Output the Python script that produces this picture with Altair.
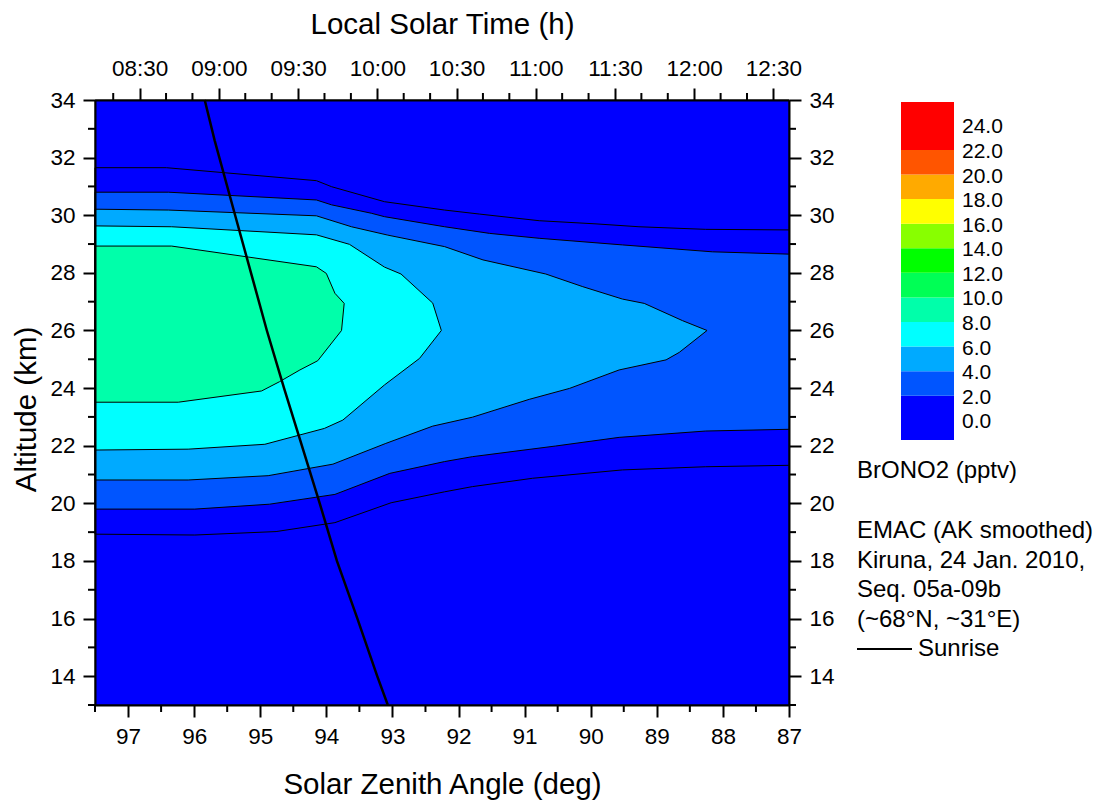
import altair as alt
import pandas as pd

# ---------------- data ----------------
SZA_DOMAIN = [87.0, 97.5]
ALT_DOMAIN = [13, 34]
TIME_DOMAIN = [493.1, 755.9]  # minutes after midnight at the plot edges

SZA_TICKS = [97, 96, 95, 94, 93, 92, 91, 90, 89, 88, 87]
SZA_MINOR = [97.5, 96.5, 95.5, 94.5, 93.5, 92.5, 91.5, 90.5, 89.5, 88.5, 87.5]
ALT_TICKS = [14, 16, 18, 20, 22, 24, 26, 28, 30, 32, 34]
ALT_MINOR = [13, 15, 17, 19, 21, 23, 25, 27, 29, 31, 33]
TIME_LABELS = ["08:30", "09:00", "09:30", "10:00", "10:30", "11:00", "11:30", "12:00", "12:30"]
TIME_MINOR = ["08:20", "08:40", "08:50", "09:10", "09:20", "09:40", "09:50", "10:10", "10:20",
              "10:40", "10:50", "11:10", "11:20", "11:40", "11:50", "12:10", "12:20"]

# contour boundaries (SZA in deg, altitude in km)
L1_UP_SZA = [97.5, 96.42, 94.15, 93.92, 93.12, 92.21, 91.68, 90.78, 89.92, 89.27, 88.26, 87.0]
L1_UP_ALT = [31.65, 31.65, 31.20, 30.99, 30.47, 30.18, 30.04, 29.81, 29.70, 29.60, 29.51, 29.49]
L1_LO_SZA = [97.5, 95.99, 94.76, 93.87, 93.02, 92.21, 91.79, 90.88, 89.52, 88.26, 87.0]
L1_LO_ALT = [18.93, 18.90, 19.02, 19.33, 20.02, 20.40, 20.58, 20.87, 21.16, 21.27, 21.32]

L2_UP_SZA = [97.5, 96.39, 94.15, 93.92, 93.32, 93.12, 92.21, 91.53, 90.78, 89.52, 88.16, 87.0]
L2_UP_ALT = [30.80, 30.80, 30.53, 30.36, 30.07, 29.95, 29.60, 29.37, 29.20, 28.97, 28.73, 28.65]
L2_LO_SZA = [97.5, 95.99, 94.86, 93.87, 93.04, 92.21, 91.79, 90.53, 89.57, 88.26, 87.0]
L2_LO_ALT = [19.80, 19.80, 19.97, 20.31, 21.04, 21.45, 21.62, 21.99, 22.29, 22.51, 22.57]

L4_UP_SZA = [97.5, 96.39, 94.15, 93.62, 93.07, 92.21, 91.63, 90.68, 90.12, 89.52, 89.19, 88.61, 88.24]
L4_UP_ALT = [30.21, 30.18, 29.98, 29.60, 29.31, 28.91, 28.45, 27.96, 27.52, 27.09, 26.94, 26.34, 26.00]
L4_LO_SZA = [97.5, 96.09, 94.88, 93.90, 93.10, 92.39, 91.79, 90.93, 90.32, 89.57, 88.86, 88.66, 88.24]
L4_LO_ALT = [20.81, 20.81, 20.96, 21.36, 22.08, 22.68, 22.99, 23.61, 23.99, 24.63, 24.98, 25.24, 26.00]

L6_UP_SZA = [97.5, 96.34, 94.15, 93.65, 93.12, 92.87, 92.39, 92.26]
L6_UP_ALT = [29.63, 29.60, 29.32, 28.99, 28.20, 27.96, 26.95, 26.00]
L6_LO_SZA = [97.5, 96.09, 94.93, 94.03, 93.75, 93.12, 92.59, 92.26]
L6_LO_ALT = [21.85, 21.88, 22.05, 22.60, 22.89, 24.11, 25.03, 26.00]

L8_UP_SZA = [97.5, 96.34, 94.15, 94.00, 93.87, 93.73, 93.77]
L8_UP_ALT = [28.93, 28.93, 28.21, 27.98, 27.29, 26.94, 26.00]
L8_LO_SZA = [97.5, 96.24, 94.98, 94.71, 94.40, 94.13, 93.77]
L8_LO_ALT = [23.51, 23.51, 23.90, 24.22, 24.63, 24.95, 26.00]

SUN_SZA = [95.84, 95.69, 95.38, 95.14, 94.90, 94.64, 94.37, 94.10, 93.84, 93.53, 93.23, 93.07]
SUN_ALT = [34, 32.6, 30, 28, 26, 24, 22, 20, 18, 16, 14, 13]

REGIONS = ["r0", "r1", "r2", "r4", "r6", "r8"]
REGION_COLORS = ["#0000FF", "#0000FF", "#0055FF", "#00AAFF", "#00FFFF", "#00FFAA"]

LEGEND_LEVELS = [0, 2, 4, 6, 8, 10, 12, 14, 16, 18, 20, 22, 24]
LEGEND_EDGES = [-1.6, 2, 4, 6, 8, 10, 12, 14, 16, 18, 20, 22, 25.9]
LEGEND_COLORS = ["#0000FF", "#0055FF", "#00AAFF", "#00FFFF", "#00FFAA", "#00FF55",
                 "#00FF00", "#88FF00", "#FFFF00", "#FFAA00", "#FF5500", "#FF0000"]

INFO_LINES = ["BrONO2 (pptv)", "EMAC (AK smoothed)", "Kiruna, 24 Jan. 2010,",
              "Seq. 05a-09b", "(~68°N, ~31°E)"]
SUNRISE_LABEL = "Sunrise"

# ---------------- layout ----------------
W, H = 694, 605
FONT = "Liberation Sans"


def to_min(s):
    h, m = s.split(":")
    return int(h) * 60 + int(m)


TIME_TICKS = [to_min(s) for s in TIME_LABELS]
TIME_MINOR_MIN = [to_min(s) for s in TIME_MINOR]


def polygon(region, up_s, up_a, lo_s, lo_a, tip):
    pts = list(zip(up_s, up_a))
    lo = list(zip(lo_s, lo_a))[::-1]
    if tip:
        lo = lo[1:]
    pts = pts + lo
    pts.append(pts[0])
    return [{"region": region, "i": k, "sza": s, "alt": a} for k, (s, a) in enumerate(pts)]


rows = []
rows += polygon("r0", [SZA_DOMAIN[1], SZA_DOMAIN[0]], [ALT_DOMAIN[1], ALT_DOMAIN[1]],
                [SZA_DOMAIN[1], SZA_DOMAIN[0]], [ALT_DOMAIN[0], ALT_DOMAIN[0]], False)
rows += polygon("r1", L1_UP_SZA, L1_UP_ALT, L1_LO_SZA, L1_LO_ALT, False)
rows += polygon("r2", L2_UP_SZA, L2_UP_ALT, L2_LO_SZA, L2_LO_ALT, False)
rows += polygon("r4", L4_UP_SZA, L4_UP_ALT, L4_LO_SZA, L4_LO_ALT, True)
rows += polygon("r6", L6_UP_SZA, L6_UP_ALT, L6_LO_SZA, L6_LO_ALT, True)
rows += polygon("r8", L8_UP_SZA, L8_UP_ALT, L8_LO_SZA, L8_LO_ALT, True)
poly_df = pd.DataFrame(rows)

sun_df = pd.DataFrame({"sza": SUN_SZA, "alt": SUN_ALT, "i": list(range(len(SUN_SZA)))})

bottom_axis = alt.Axis(orient="bottom", values=SZA_TICKS, format="d", tickSize=12,
                       labelPadding=8, title="Solar Zenith Angle (deg)", titleY=88,
                       titleBaseline="alphabetic", titleAlign="center", zindex=1)
left_axis = alt.Axis(orient="left", values=ALT_TICKS, format="d", tickSize=12,
                     labelPadding=8, title="Altitude (km)", titleAngle=270, titleX=-60,
                     titleY=309, titleBaseline="alphabetic", titleAlign="center", zindex=1)
top_axis = alt.Axis(orient="top", values=TIME_TICKS, tickSize=12, labelPadding=8,
                    labelExpr="pad(floor(datum.value / 60), 2, '0', 'left') + ':' + pad(datum.value % 60, 2, '0', 'left')",
                    title="Local Solar Time (h)", titleY=-67, titleBaseline="alphabetic",
                    titleAlign="center", zindex=1)
right_axis = alt.Axis(orient="right", values=ALT_TICKS, format="d", tickSize=12,
                      labelPadding=8, zindex=1)

X = alt.X("sza:Q", scale=alt.Scale(domain=SZA_DOMAIN, reverse=True, nice=False, zero=False),
          axis=bottom_axis)
Y = alt.Y("alt:Q", scale=alt.Scale(domain=ALT_DOMAIN, nice=False, zero=False), axis=left_axis)

region_layers = []
for r in REGIONS:
    region_layers.append(
        alt.Chart(poly_df)
        .transform_filter(alt.datum.region == r)
        .mark_line(filled=True, stroke="black", strokeWidth=1)
        .encode(x=X, y=Y, order="i:Q",
                color=alt.Color("region:N", scale=alt.Scale(domain=REGIONS, range=REGION_COLORS),
                                legend=None))
    )

sun_layer = alt.Chart(sun_df).mark_line(color="black", strokeWidth=2.5).encode(x=X, y=Y, order="i:Q")

minor_bottom = alt.Chart(pd.DataFrame({"sza": SZA_MINOR})).mark_rule(color="black", strokeWidth=2).encode(
    x=X, y=alt.value(H), y2=alt.value(H + 7))
minor_left = alt.Chart(pd.DataFrame({"alt": ALT_MINOR})).mark_rule(color="black", strokeWidth=2).encode(
    y=Y, x=alt.value(0), x2=alt.value(-7))

main = alt.layer(*region_layers, sun_layer, minor_bottom, minor_left)

time_layer = alt.Chart(pd.DataFrame({"t": TIME_MINOR_MIN})).mark_rule(color="black", strokeWidth=2).encode(
    x=alt.X("t:Q", scale=alt.Scale(domain=TIME_DOMAIN, nice=False, zero=False), axis=top_axis),
    y=alt.value(0), y2=alt.value(-7))

right_layer = alt.Chart(pd.DataFrame({"alt": ALT_MINOR})).mark_rule(color="black", strokeWidth=2).encode(
    y=alt.Y("alt:Q", scale=alt.Scale(domain=ALT_DOMAIN, nice=False, zero=False), axis=right_axis, title=None),
    x=alt.value(W), x2=alt.value(W + 7))

leg_scale = alt.Scale(domain=[LEGEND_EDGES[0], LEGEND_EDGES[-1]], range=[340, 2], nice=False, zero=False)
leg_df = pd.DataFrame({"lo": LEGEND_EDGES[:-1], "hi": LEGEND_EDGES[1:], "col": LEGEND_COLORS})
leg_rects = alt.Chart(leg_df).mark_rect().encode(
    y=alt.Y("lo:Q", scale=leg_scale, axis=None), y2="hi:Q",
    x=alt.value(806), x2=alt.value(859),
    color=alt.Color("col:N", scale=None))
leg_labels = alt.Chart(pd.DataFrame({"lo": LEGEND_LEVELS})).mark_text(
    align="left", baseline="middle", fontSize=21, font=FONT, color="black", dy=2).encode(
    y=alt.Y("lo:Q", scale=leg_scale, axis=None), x=alt.value(867),
    text=alt.Text("lo:Q", format=".1f"))
legend = alt.layer(leg_rects, leg_labels)

INFO_Y = [378, 438, 467.5, 497, 526.5]
texts = []
for line, yy in zip(INFO_LINES, INFO_Y):
    texts.append(alt.Chart(pd.DataFrame({"t": [line]})).mark_text(
        align="left", baseline="alphabetic", fontSize=24, font=FONT, color="black").encode(
        x=alt.value(762), y=alt.value(yy), text="t:N"))
texts.append(alt.Chart(pd.DataFrame({"t": [SUNRISE_LABEL]})).mark_rule(color="black", strokeWidth=2).encode(
    x=alt.value(762), x2=alt.value(817), y=alt.value(549)))
texts.append(alt.Chart(pd.DataFrame({"t": [SUNRISE_LABEL]})).mark_text(
    align="left", baseline="alphabetic", fontSize=24, font=FONT, color="black").encode(
    x=alt.value(823), y=alt.value(556), text="t:N"))

chart = (
    alt.layer(main, time_layer, right_layer, legend, *texts)
    .resolve_scale(x="independent", y="independent", color="independent")
    .properties(width=W, height=H,
                autosize=alt.AutoSizeParams(type="none"),
                padding={"left": 95, "top": 100, "right": 318, "bottom": 98})
    .configure_axis(labelFont=FONT, titleFont=FONT, labelFontSize=22.5, titleFontSize=29.5,
                    titleFontWeight="normal", labelColor="black", titleColor="black",
                    tickColor="black", domainColor="black", tickWidth=2, domainWidth=2,
                    grid=False, labelFlush=False, labelOverlap=False)
    .configure_view(strokeWidth=0)
)

chart.save("out.html", embed_options={"renderer": "svg", "actions": False})
